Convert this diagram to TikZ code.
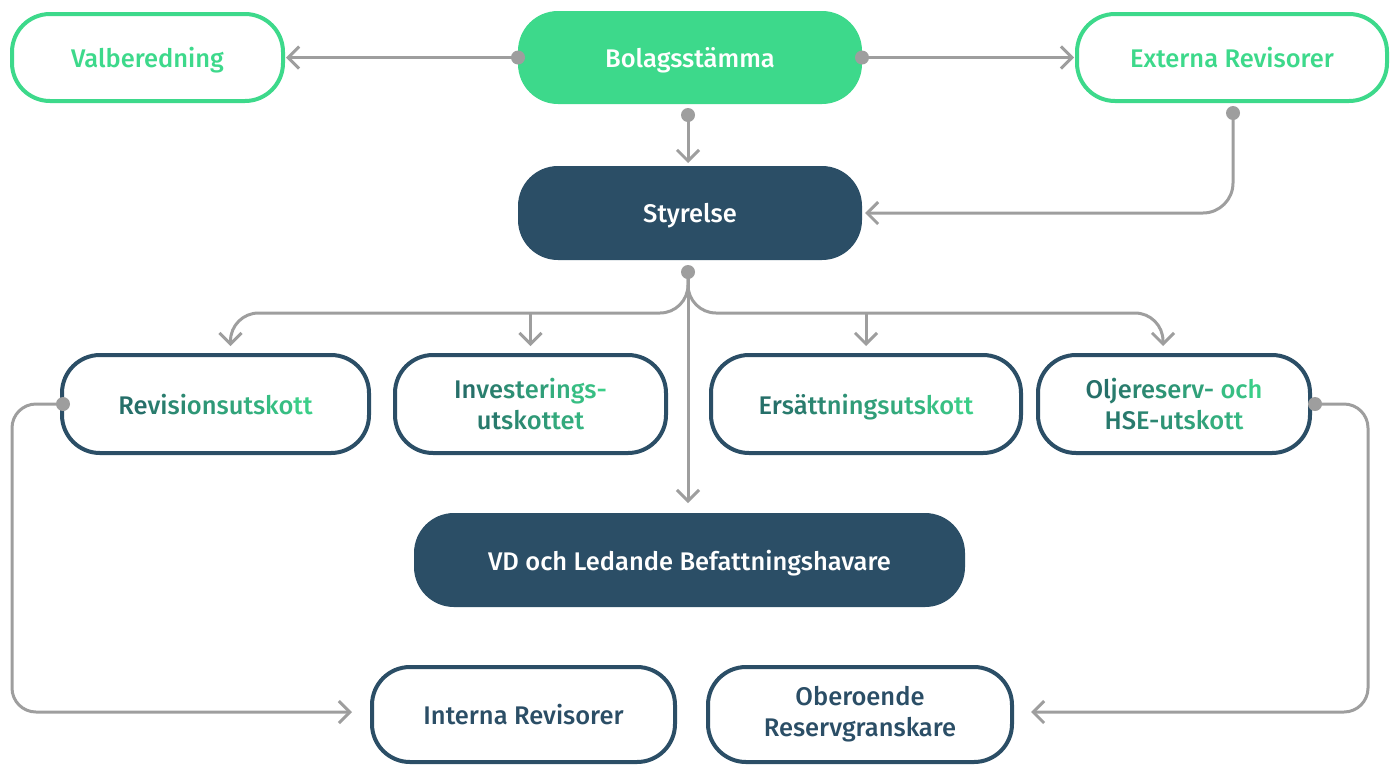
\documentclass[tikz,border=0pt]{standalone}
\usepackage{fontspec}
\setmainfont{Fira Sans}[UprightFont={* Medium}]
\usetikzlibrary{arrows.meta,calc}
\definecolor{grn}{HTML}{3DD98B}
\definecolor{navy}{HTML}{2B4E66}
\definecolor{cgray}{HTML}{9E9E9E}
\definecolor{tA}{HTML}{266F69}
\definecolor{tB}{HTML}{3DD88C}
\newcommand{\gc}[2]{{\color{tB!#1!tA}#2}}
\tikzset{
  box/.style={rounded corners=38pt, line width=4pt, align=center, font=\fontsize{25.5}{31}\selectfont, inner sep=0pt},
  oneline/.style={text depth=0pt},
  gbox/.style={box, draw=grn, fill=white, text=grn},
  gfill/.style={box, draw=grn, fill=grn, text=white},
  nfill/.style={box, draw=navy, fill=navy, text=white},
  nbox/.style={box, draw=navy, fill=white, text=navy},
  conn/.style={draw=cgray, line width=3pt, -{Straight Barb[length=11pt,width=22pt,line width=3pt]}},
  dot/.style={circle, fill=cgray, inner sep=0pt, minimum size=14pt}
}
\begin{document}
\begin{tikzpicture}[x=1pt,y=-1pt]
\useasboundingbox (0,0) rectangle (1397,764);
% nodes
\node[gbox, oneline, minimum width=271, minimum height=87] (val) at (147.5,57.5) {Valberedning};
\node[gfill, oneline, minimum width=340, minimum height=89] (bol) at (690,57.5) {Bolagsstämma};
\node[gbox, oneline, minimum width=310, minimum height=87] (ext) at (1232,57.5) {Externa Revisorer};
\node[nfill, oneline, minimum width=340, minimum height=90] (sty) at (690,213) {Styrelse};
\node[nbox, oneline, minimum width=307, minimum height=98] (rev) at (215.5,404)
  {\gc{0}{Re}\gc{12}{vi}\gc{25}{si}\gc{37}{on}\gc{50}{su}\gc{62}{ts}\gc{75}{ko}\gc{90}{tt}};
\node[nbox, minimum width=271, minimum height=98] (inv) at (530.5,404)
  {\gc{0}{In}\gc{15}{ve}\gc{30}{st}\gc{45}{er}\gc{60}{in}\gc{75}{gs}\gc{90}{-}\\
   \gc{10}{ut}\gc{25}{sk}\gc{40}{ot}\gc{55}{te}\gc{65}{t}};
\node[nbox, oneline, minimum width=310, minimum height=98] (ers) at (866,404)
  {\gc{0}{Er}\gc{11}{sä}\gc{22}{tt}\gc{33}{ni}\gc{44}{ng}\gc{55}{su}\gc{66}{ts}\gc{77}{ko}\gc{90}{tt}};
\node[nbox, minimum width=272, minimum height=98] (olj) at (1174,404)
  {\gc{0}{Ol}\gc{12}{je}\gc{24}{re}\gc{36}{se}\gc{48}{rv-} \gc{75}{oc}\gc{90}{h}\\
   \gc{10}{HS}\gc{22}{E-}\gc{35}{ut}\gc{48}{sk}\gc{60}{ot}\gc{70}{t}};
\node[nfill, oneline, minimum width=547, minimum height=90] (vd) at (689.5,560) {VD och Ledande Befattningshavare};
\node[nbox, oneline, minimum width=303, minimum height=95] (int) at (523.5,714.5) {Interna Revisorer};
\node[nbox, minimum width=304, minimum height=95] (obe) at (860,714.5) {Oberoende\\Reservgranskare};
% helper coordinates
\coordinate (bdot) at ($(bol.south)+(-2,11)$);
\coordinate (edot) at ($(ext.south)+(1,10)$);
\coordinate (sdot) at ($(sty.south)+(-2,12)$);
\coordinate (hl) at (0,313);
\coordinate (lx) at (12,0);
\coordinate (rx) at (1368,0);
\coordinate (revin) at ($(rev.north)+(15,0)$);
\coordinate (oljin) at ($(olj.north)+(-11,0)$);
% connectors
\draw[conn, shorten >=1pt] (bol.west) -- (val.east);
\draw[conn, shorten >=1pt] (bol.east) -- (ext.west);
\draw[conn, shorten >=3pt] (bdot) -- (bdot |- sty.north);
\draw[conn, rounded corners=30pt, shorten >=3pt] (edot) |- (sty.east);
\draw[conn, shorten >=10pt] (sdot) -- (sdot |- vd.north);
\draw[conn, shorten >=7pt] (sdot) [rounded corners=28pt] |- (oljin |- hl) [rounded corners=14pt] -- (oljin);
\draw[conn, shorten >=7pt] (sdot) [rounded corners=28pt] |- (revin |- hl) [rounded corners=14pt] -- (revin);
\draw[conn, shorten >=7pt] (inv.north |- hl) -- (inv.north);
\draw[conn, shorten >=7pt] (ers.north |- hl) -- (ers.north);
\draw[conn, rounded corners=24pt, shorten >=18pt] (rev.west) -- (rev.west -| lx) -- (lx |- 0,712) -- (int.west |- 0,712);
\draw[conn, rounded corners=24pt, shorten >=17pt] (olj.east) -- (olj.east -| rx) -- (rx |- 0,712) -- (obe.east |- 0,712);
% dots
\node[dot] at (bol.west) {};
\node[dot] at (bol.east) {};
\node[dot] at (bdot) {};
\node[dot] at (edot) {};
\node[dot] at (sdot) {};
\node[dot] at ($(rev.west)+(3,0)$) {};
\node[dot] at ($(olj.east)+(3,0)$) {};
\end{tikzpicture}
\end{document}
